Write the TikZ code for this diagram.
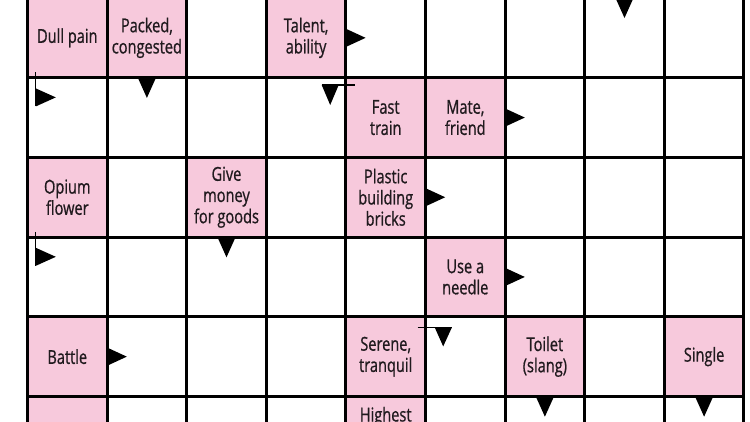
\documentclass[tikz,border=0pt]{standalone}
\usepackage{fontspec}
\setmainfont{Open Sans}[FakeStretch=0.76,FakeBold=0.8]
\usetikzlibrary{calc}
\definecolor{cluepink}{RGB}{247,201,220}
\definecolor{ink}{RGB}{32,26,30}
\tikzset{
  clue/.style={fill=cluepink, minimum width=79.6pt, minimum height=79.7pt, inner sep=0pt, text=ink, align=center, font=\fontsize{19.2}{21.2}\selectfont},
  cluetext/.style={text=ink, inner sep=0pt, font=\fontsize{19.2}{21.2}\selectfont},
  gridline/.style={line width=3pt, draw=black},
  pointer/.style={fill=black},
  leader/.style={line width=1.2pt, draw=black},
}
\begin{document}
\begin{tikzpicture}[x=1pt,y=-1pt]
\fill[white] (0,0) rectangle (750,421);
\useasboundingbox (0,0) rectangle (750,421);
% clue cells
\node[clue] (k00) at (67.3,37.85) {Dull pain};
\node[clue] (k01) at (146.9,37.85) {Packed,\\congested};
\node[clue] (k03) at (306.1,37.85) {Talent,\\ability};
\node[clue] (k14) at (385.7,117.55) {Fast\\train};
\node[clue] (k15) at (465.3,117.55) {Mate,\\friend};
\node[clue] (k20) at (67.3,197.25) {Opium\\flower};
\node[clue] (k22) at (226.5,197.25) {Give\\money\\for goods};
\node[clue] (k24) at (385.7,197.25) {Plastic\\building\\bricks};
\node[clue] (k35) at (465.3,276.95) {Use a\\needle};
\node[clue] (k40) at (67.3,356.65) {Battle};
\node[clue] (k44) at (385.7,356.65) {Serene,\\tranquil};
\node[clue] (k46) at (544.9,356.65) {Toilet\\(slang)};
\node[clue] (k48) at (704.1,356.65) {Single};
\node[clue] (k50) at (67.3,436.35) {};
\node[clue] (k54) at (385.7,436.35) {};
\node[cluetext, anchor=base] (t54) at (385.7,421.5) {Highest};
% grid
\foreach \i in {0,...,9} \draw[gridline] ({27.5+79.6*\i},-6) -- ({27.5+79.6*\i},430);
\foreach \j in {0,...,6} \draw[gridline] (26,{-2+79.7*\j}) -- (745.4,{-2+79.7*\j});
% right pointers
\foreach \k in {k03,k15,k24,k35,k40}
  \fill[pointer] ($(\k.east)+(0,-9)$) -- ($(\k.east)+(19.5,0)$) -- ($(\k.east)+(0,9)$) -- cycle;
% down pointers
\coordinate (a07) at (624.5,-2);
\foreach \k in {k01.south,k22.south,k46.south,k48.south,a07}
  \fill[pointer] ($(\k)+(-9,0)$) -- ($(\k)+(0,20)$) -- ($(\k)+(9,0)$) -- cycle;
% bent pointers
\foreach \k in {k00,k20}{
  \draw[leader] ($(\k.south west)+(8.5,-5.5)$) -- ($(\k.south west)+(8.5,28.5)$);
  \fill[pointer] ($(\k.south west)+(8.5,10.5)$) -- ($(\k.south west)+(28.5,19.5)$) -- ($(\k.south west)+(8.5,28.5)$) -- cycle;
}
\draw[leader] ($(k14.north west)+(-24,7.5)$) -- ($(k14.north west)+(9.5,7.5)$);
\fill[pointer] ($(k14.north west)+(-24,7.5)$) -- ($(k14.north west)+(-15.5,27.5)$) -- ($(k14.north west)+(-7,7.5)$) -- cycle;
\draw[leader] ($(k44.north east)+(-8,10.8)$) -- ($(k44.north east)+(26.2,10.8)$);
\fill[pointer] ($(k44.north east)+(9,10.8)$) -- ($(k44.north east)+(17.5,29.8)$) -- ($(k44.north east)+(26.2,10.8)$) -- cycle;
\end{tikzpicture}
\end{document}
